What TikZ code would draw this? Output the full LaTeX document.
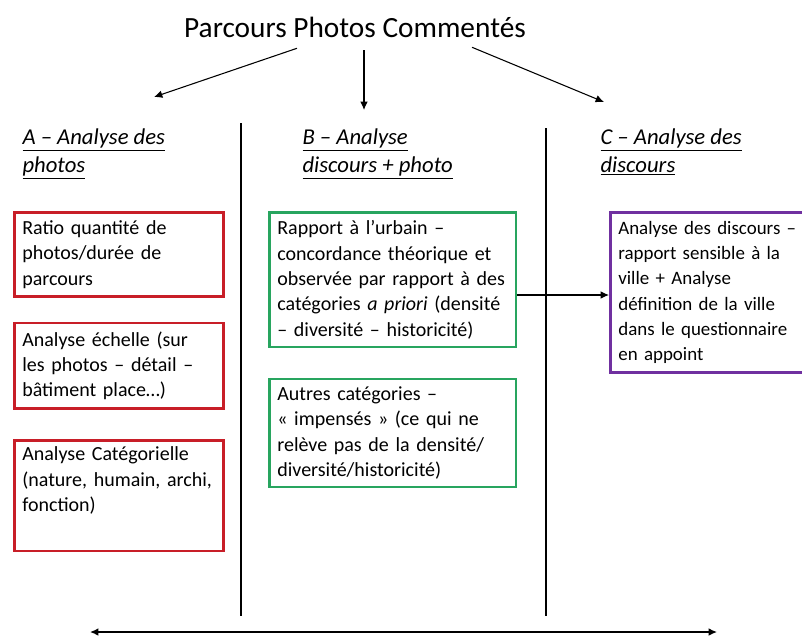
\documentclass[tikz,border=0pt]{standalone}
\usepackage{fontspec}
\setmainfont{Carlito}
\usepackage{xcolor}
\usetikzlibrary{arrows.meta, positioning}
\definecolor{rouge}{RGB}{200,30,40}
\definecolor{vert}{RGB}{40,165,95}
\definecolor{violet}{RGB}{112,48,160}
\tikzset{> = { Latex[length = 2.2mm, width = 2mm] }}

\begin{document}
\begin{tikzpicture}[x = 0.75pt, y = -0.75pt, line width = 0.8pt,
		titre/.style = { font = \fontsize{22}{26}\selectfont },
		tete/.style = { anchor = north west, align = left, inner sep = 0pt, font = \fontsize{17}{21}\selectfont\itshape },
		boite/.style = { draw, line width = 2pt, anchor = north west, align = left, inner xsep = 6pt, inner ysep = 4pt, font = \fontsize{15}{19}\selectfont },
		rbox/.style = { boite, draw = rouge, text width = 145pt, minimum width = 157pt },
		vbox/.style = { boite, draw = vert, text width = 173pt, minimum width = 185pt },
		pbox/.style = { boite, draw = violet, text width = 145pt, minimum width = 157pt, inner xsep = 5pt, font = \fontsize{14.2}{19}\selectfont }]
		\useasboundingbox (0,0) rectangle (802,637);

		\node [titre] (titre) at (355,27) {Parcours Photos Commentés};
		\coordinate (fA) at (154,97);
		\coordinate (fB) at (364,110);
		\coordinate (fC) at (604,102);

		\node [tete] (tA) at (22,128) {\underline{A -- Analyse des}\\\underline{photos}};
		\node [tete] (tB) at (302,128) {\underline{B -- Analyse}\\\underline{discours + photo}};
		\node [tete] (tC) at (600,128) {\underline{C -- Analyse des}\\\underline{discours}};

		\node [rbox, minimum height = 63pt] (r1) at (13,211) {Ratio quantité de\\photos/durée de\\parcours};
		\node [rbox, minimum height = 64pt, below = 18pt of r1.south west, anchor = north west] (r2) {Analyse échelle (sur\\les photos -- détail --\\bâtiment place\ldots)};
		\node [rbox, minimum height = 83pt, below = 22pt of r2.south west, anchor = north west] (r3) {Analyse Catégorielle\\(nature, humain, archi,\\fonction)\\\strut};

		\node [vbox, minimum height = 101pt] (v1) at (268,211) {Rapport à l’urbain --\\concordance théorique et\\observée par rapport à des\\catégories \textit{a priori} (densité\\-- diversité -- historicité)};
		\node [vbox, minimum height = 81pt, below = 22pt of v1.south west, anchor = north west] (v2) {Autres catégories --\\« impensés » (ce qui ne\\relève pas de la densité/\\diversité/historicité)};

		\node [pbox, minimum height = 120pt] (p1) at (609,211) {Analyse des discours --\\rapport sensible à la\\ville + Analyse\\définition de la ville\\dans le questionnaire\\en appoint};

		\coordinate (s1h) at (241,123);
		\coordinate (s1b) at (241,616);
		\coordinate (s2h) at (546,128);
		\coordinate (s2b) at (546,616);
		\coordinate (gA) at (90,632);
		\coordinate (gB) at (717,632);

		\draw [->] (titre.south -| 297,0) ++(0,6) -- (fA);
		\draw [->] (titre.south -| 364,0) ++(0,8) -- (fB);
		\draw [->] (titre.south -| 472,0) ++(0,5) -- (fC);

		\draw (s1h) -- (s1b);
		\draw (s2h) -- (s2b);

		\draw [->] (v1.east |- 0,295) -- (p1.west |- 0,295);
		\draw [<->, line width = 1pt] (gA) -- (gB);
	\end{tikzpicture}
\end{document}
